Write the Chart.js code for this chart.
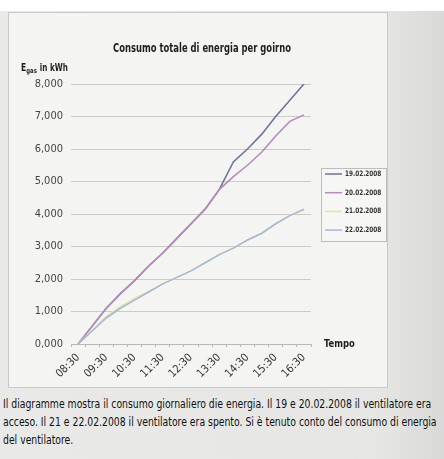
<!DOCTYPE html>
<html>
<head>
<meta charset="utf-8">
<script src="https://cdn.jsdelivr.net/npm/chart.js"></script>
<style>
  body {
    margin: 0;
    width: 444px;
    height: 459px;
    background: #ffffff;
    position: relative;
    overflow: hidden;
    font-family: "DejaVu Sans Condensed", "Liberation Sans Narrow", sans-serif;
  }
  .backdrop {
    position: absolute;
    left: 0;
    top: 11px;
    width: 444px;
    height: 448px;
    background: linear-gradient(to right, #e9eae8 0%, #e6e7e5 85%, #d9dad8 100%);
  }
  .panel {
    position: absolute;
    left: 8px;
    top: 12px;
    width: 380px;
    height: 376px;
    background: #f4f4f2;
    border: 1px solid #c9c9c7;
    box-sizing: border-box;
  }
  .caption {
    position: absolute;
    left: 3px;
    top: 395px;
    width: 520px;
    font-size: 12px;
    line-height: 18px;
    color: #111;
    white-space: nowrap;
    transform: scaleX(0.86);
    transform-origin: left top;
  }
</style>
</head>
<body>
<div class="backdrop"></div>
<div class="panel"><canvas id="energyChart" width="378" height="374"></canvas></div>
<div class="caption">Il diagramme mostra il consumo giornaliero die energia. Il 19 e 20.02.2008 il ventilatore era<br>acceso. Il 21 e 22.02.2008 il ventilatore era spento. Si è tenuto conto del consumo di energia<br>del ventilatore.</div>

<script>
// time of day, every 30 minutes
const categories = ["08:30", "09:00", "09:30", "10:00", "10:30", "11:00", "11:30", "12:00", "12:30",
  "13:00", "13:30", "14:00", "14:30", "15:00", "15:30", "16:00", "16:30"];
// only the hourly ones are written under the axis
const tickLabels = ["08:30", "09:30", "10:30", "11:30", "12:30", "13:30", "14:30", "15:30", "16:30"];

const seriesNames = ["19.02.2008", "20.02.2008", "21.02.2008", "22.02.2008"];

// kWh
const values19 = [0, 0.55, 1.1, 1.55, 1.95, 2.4, 2.8, 3.25, 3.7, 4.15, 4.75, 5.6, 6.0, 6.45, 7.0, 7.5, 8.0];
const values20 = [0, 0.55, 1.1, 1.55, 1.95, 2.4, 2.8, 3.25, 3.7, 4.15, 4.75, 5.15, 5.5, 5.9, 6.4, 6.85, 7.05];
const values21 = [0, 0.42, 0.85, 1.15, 1.4, 1.62, 1.85, 2.05, 2.25, 2.5, 2.75, 2.95, 3.2, 3.42, 3.7, 3.95, 4.12];
const values22 = [0, 0.4, 0.8, 1.1, 1.35, 1.6, 1.85, 2.05, 2.25, 2.5, 2.75, 2.95, 3.2, 3.4, 3.7, 3.95, 4.15];

const yTicks = [0, 1, 2, 3, 4, 5, 6, 7, 8];

const colors = ["#72739c", "#b68cbb", "#dfe6a2", "#a9b8d6"];

const FONT = "'DejaVu Sans Condensed', 'Liberation Sans Narrow', sans-serif";

function fmtKwh(v) {
  // 8 -> "8,000"
  return Math.round(v) + ",000";
}

// text squeezed sideways, the original uses a narrow font
function narrowText(ctx, text, x, y, sx) {
  ctx.save();
  ctx.translate(x, y);
  ctx.scale(sx, 1);
  ctx.fillText(text, 0, 0);
  ctx.restore();
  return ctx.measureText(text).width * sx;
}

// title, axis names and the boxed legend, drawn by hand like the Excel original
const decorPlugin = {
  id: "decor",
  afterDraw(chart) {
    const ctx = chart.ctx;
    const area = chart.chartArea;
    ctx.save();

    ctx.fillStyle = "#1e1e1e";
    ctx.textAlign = "center";
    ctx.textBaseline = "middle";
    ctx.font = "bold 12px " + FONT;
    narrowText(ctx, "Consumo totale di energia per goirno", 193, 36, 0.78);

    // y axis name with subscript
    ctx.textAlign = "left";
    ctx.font = "bold 10px " + FONT;
    let x = 12;
    x += narrowText(ctx, "E", x, 55, 0.85);
    ctx.font = "bold 7px " + FONT;
    x += narrowText(ctx, "gas", x, 58, 0.85) + 3;
    ctx.font = "bold 10px " + FONT;
    narrowText(ctx, "in kWh", x, 55, 0.8);

    // x axis name
    ctx.font = "bold 11px " + FONT;
    narrowText(ctx, "Tempo", area.right + 13, area.bottom, 0.85);

    // legend box
    const lx = 312, ly = 155, lw = 65, lh = 73;
    ctx.fillStyle = "#f6f6f4";
    ctx.fillRect(lx, ly, lw, lh);
    ctx.strokeStyle = "#bdbdbb";
    ctx.lineWidth = 1;
    ctx.strokeRect(lx + 0.5, ly + 0.5, lw, lh);
    chart.data.datasets.forEach((ds, i) => {
      const y = ly + 6 + i * 18.7;
      ctx.strokeStyle = ds.borderColor;
      ctx.lineWidth = 1.5;
      ctx.beginPath();
      ctx.moveTo(lx + 4, y);
      ctx.lineTo(lx + 21, y);
      ctx.stroke();
      ctx.fillStyle = "#333";
      ctx.font = "bold 7.5px " + FONT;
      narrowText(ctx, ds.label, lx + 24, y, 0.85);
    });

    ctx.restore();
  }
};

const datasets = [values19, values20, values21, values22].map((vals, i) => ({
  label: seriesNames[i],
  data: vals.map(v => v * 1000),
  borderColor: colors[i],
  backgroundColor: colors[i],
  borderWidth: 1.6,
  pointRadius: 0,
  tension: 0,
  order: 4 - i
}));

new Chart(document.getElementById("energyChart"), {
  type: "line",
  data: { labels: categories, datasets },
  options: {
    responsive: false,
    animation: false,
    layout: { padding: { left: 0, top: 71, right: 76, bottom: 0 } },
    plugins: {
      legend: { display: false },
      title: { display: false },
      tooltip: { enabled: false }
    },
    scales: {
      x: {
        offset: true,
        afterFit(scale) { scale.height = 43; },
        grid: {
          display: true,
          offset: true,
          drawOnChartArea: false,
          tickLength: 3,
          color: "#b9b9b7"
        },
        border: { color: "#b9b9b7" },
        ticks: {
          autoSkip: false,
          minRotation: 45,
          maxRotation: 45,
          padding: 4,
          color: "#333",
          font: { family: FONT, size: 11 },
          callback(value) {
            const lab = categories[value];
            return tickLabels.includes(lab) ? lab : "";
          }
        }
      },
      y: {
        min: 0,
        max: 8000,
        afterFit(scale) { scale.width = 62; },
        afterBuildTicks(scale) {
          scale.ticks = yTicks.map(v => ({ value: v * 1000 }));
        },
        grid: { color: "#cbcbc9", lineWidth: 1, drawTicks: false },
        border: { display: false },
        ticks: {
          padding: 8,
          color: "#444",
          font: { family: FONT, size: 11 },
          callback(value) { return fmtKwh(value / 1000); }
        }
      }
    }
  },
  plugins: [decorPlugin]
});
</script>
</body>
</html>
